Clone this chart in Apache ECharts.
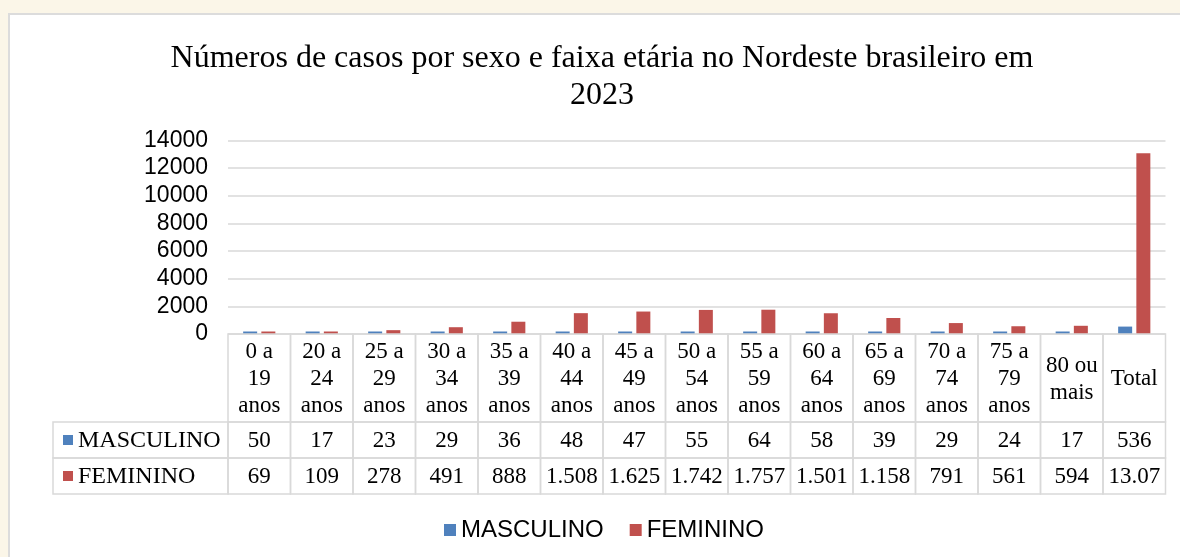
<!DOCTYPE html>
<html>
<head>
<meta charset="utf-8">
<script src="https://cdn.jsdelivr.net/npm/echarts@6/dist/echarts.min.js"></script>
<style>
  html, body { margin: 0; padding: 0; background: #fbf6e8; }
  #chart { width: 1180px; height: 557px; }
</style>
</head>
<body>
<div id="chart"></div>
<script>
// faixas etárias (cabeçalho da tabela)
const categories = [
  '0 a\n19\nanos', '20 a\n24\nanos', '25 a\n29\nanos', '30 a\n34\nanos', '35 a\n39\nanos',
  '40 a\n44\nanos', '45 a\n49\nanos', '50 a\n54\nanos', '55 a\n59\nanos', '60 a\n64\nanos',
  '65 a\n69\nanos', '70 a\n74\nanos', '75 a\n79\nanos', '80 ou\nmais', 'Total'
]
const masculino = [50, 17, 23, 29, 36, 48, 47, 55, 64, 58, 39, 29, 24, 17, 536]
const feminino = [69, 109, 278, 491, 888, 1508, 1625, 1742, 1757, 1501, 1158, 791, 561, 594, 13072]
const seriesNames = ['MASCULINO', 'FEMININO']
const colors = ['#4f81bd', '#c0504d']

const serif = '"Liberation Serif", "Times New Roman", serif'
const sans = '"Liberation Sans", Arial, sans-serif'
const border = '#d9d9d9'

const fmt = v => v.toLocaleString('pt-BR')

const chart = echarts.init(document.getElementById('chart'))

// tabela de dados abaixo do eixo, uma coluna por categoria
function renderTable(params, api) {
  const idx = api.value(0)
  const p = api.coord([idx, 0])
  const w = api.size([1, 0])[0]
  const x0 = p[0] - w / 2
  const y0 = p[1]
  const headH = 88
  const rowH = 36
  const children = []
  const cell = (x, y, cw, ch) => ({
    type: 'rect',
    shape: { x: x, y: y, width: cw, height: ch },
    style: { fill: 'transparent', stroke: border, lineWidth: 1.5 }
  })
  const txt = (t, x, y, extra) => ({
    type: 'text',
    style: Object.assign({
      text: t, x: x, y: y, align: 'center', verticalAlign: 'middle',
      font: '23px ' + serif, fill: '#000', lineHeight: 27
    }, extra || {})
  })

  children.push(cell(x0, y0, w, headH))
  children.push(txt(categories[idx], p[0], y0 + headH / 2 + 1))
  const vals = [masculino[idx], feminino[idx]]
  vals.forEach((v, r) => {
    const y = y0 + headH + r * rowH
    children.push(cell(x0, y, w, rowH))
    children.push(txt(fmt(v), p[0], y + rowH / 2 + 1, {
      width: w - 4, overflow: 'truncate', ellipsis: ''
    }))
  })

  if (idx === 0) {
    const lx = x0 - 175
    seriesNames.forEach((name, r) => {
      const y = y0 + headH + r * rowH
      children.push(cell(lx, y, 175, rowH))
      children.push({
        type: 'rect',
        shape: { x: lx + 10, y: y + rowH / 2 - 5, width: 10, height: 10 },
        style: { fill: colors[r] }
      })
      children.push(txt(name, lx + 25, y + rowH / 2 + 1, { align: 'left', font: '24px ' + serif }))
    })
  }
  return { type: 'group', children: children }
}

const option = {
  animation: false,
  graphic: [{
    type: 'rect',
    shape: { x: 9, y: 14, width: 1200, height: 600 },
    style: { fill: '#fff', stroke: '#dcdcdc', lineWidth: 2 },
    z: -10
  }],
  title: {
    text: 'Números de casos por sexo e faixa etária no Nordeste brasileiro em\n2023',
    left: 597,
    top: 35,
    textAlign: 'center',
    textStyle: {
      fontFamily: serif,
      fontWeight: 'normal',
      fontSize: 32,
      lineHeight: 37,
      color: '#000'
    }
  },
  legend: {
    data: seriesNames,
    top: 513,
    left: 439,
    icon: 'rect',
    itemWidth: 12,
    itemHeight: 12,
    itemGap: 26,
    textStyle: { fontFamily: sans, fontSize: 24, color: '#000' }
  },
  grid: {
    left: 228,
    right: 14.5,
    top: 140.5,
    bottom: 223
  },
  xAxis: {
    type: 'category',
    data: categories,
    axisLine: { show: false },
    axisTick: { show: false },
    axisLabel: { show: false }
  },
  yAxis: {
    type: 'value',
    min: 0,
    max: 14000,
    interval: 2000,
    axisLine: { show: false },
    axisTick: { show: false },
    axisLabel: {
      margin: 20,
      fontFamily: sans,
      fontSize: 23,
      color: '#000',
      formatter: v => String(v)
    },
    splitLine: { lineStyle: { color: border, width: 1.5 } }
  },
  series: [
    {
      name: seriesNames[0],
      type: 'bar',
      data: masculino,
      barWidth: 14,
      barGap: '30%',
      barMinHeight: 2.5,
      itemStyle: { color: colors[0] }
    },
    {
      name: seriesNames[1],
      type: 'bar',
      data: feminino,
      barWidth: 14,
      barMinHeight: 2.5,
      itemStyle: { color: colors[1] }
    },
    {
      type: 'custom',
      renderItem: renderTable,
      data: categories.map((c, i) => [i, 0]),
      encode: { x: 0, y: 1 },
      clip: false,
      silent: true,
      z: 5
    }
  ]
}

chart.setOption(option)
</script>
</body>
</html>
